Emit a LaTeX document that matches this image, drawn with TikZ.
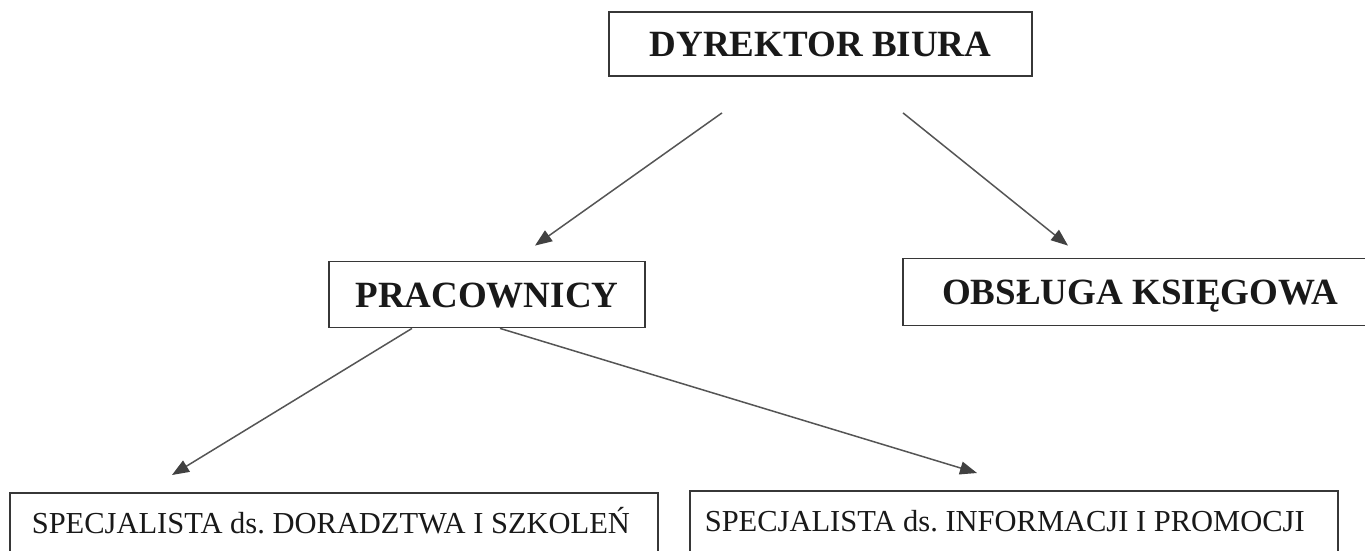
\documentclass[tikz,border=0pt]{standalone}
\usepackage{fontspec}
\setmainfont{Liberation Serif}
\usetikzlibrary{arrows.meta,calc}
\definecolor{boxcol}{RGB}{55,55,55}
\definecolor{arrcol}{RGB}{85,85,85}
\definecolor{tipcol}{RGB}{65,65,65}
\frenchspacing
\begin{document}
\begin{tikzpicture}[x=1pt,y=-1pt,
  box/.style={draw=boxcol, line width=1.8pt, rectangle, inner sep=0pt,
    text height=25pt, text depth=0pt,
    font=\fontsize{37}{40}\selectfont\bfseries, text=black!90},
  specbox/.style={draw=boxcol, line width=1.6pt, rectangle, anchor=north west,
    inner xsep=22pt, inner ysep=20pt, text height=21pt, text depth=80pt,
    font=\fontsize{30.5}{34}\selectfont\frenchspacing, text=black!90},
  arr/.style={draw=arrcol, line width=1.5pt,
    -{Triangle[length=17pt,width=13pt,fill=tipcol,color=tipcol]}}
]
\useasboundingbox (0,0) rectangle (1365,551);
\fill[white] (0,0) rectangle (1365,551);

\node[box, minimum width=423pt, minimum height=64pt] (dyr) at (820.5,44) {DYREKTOR BIURA};
\node[box, minimum width=316pt, minimum height=66pt] (prac) at (487,294.5) {PRACOWNICY};
\node[box, minimum width=474pt, minimum height=67pt] (obs) at (1140,292) {OBSŁUGA KSIĘGOWA};
\node[specbox] (s1) at (9,492) {\makebox[604pt][l]{SPECJALISTA ds. DORADZTWA I SZKOLEŃ}};
\node[specbox, inner xsep=15pt] (s2) at (689,490) {\makebox[618pt][l]{SPECJALISTA ds. INFORMACJI I PROMOCJI}};

\coordinate (d1) at ($(dyr.south)+(-98.5,36)$);
\coordinate (d2) at ($(dyr.south)+(82.5,36)$);
\coordinate (p1) at ($(prac.north)+(48,-15)$);
\coordinate (o1) at ($(obs.north)+(-72,-12)$);
\coordinate (q1) at ($(prac.south)+(-75,0)$);
\coordinate (q2) at ($(prac.south)+(13,0)$);
\coordinate (t1) at ($(s1.north west)+(163,-17)$);
\coordinate (t2) at ($(s2.north west)+(288,-17)$);

\draw[arr] (d1) -- (p1);
\draw[arr] (d2) -- (o1);
\draw[arr] (q1) -- (t1);
\draw[arr] (q2) -- (t2);
\end{tikzpicture}
\end{document}
